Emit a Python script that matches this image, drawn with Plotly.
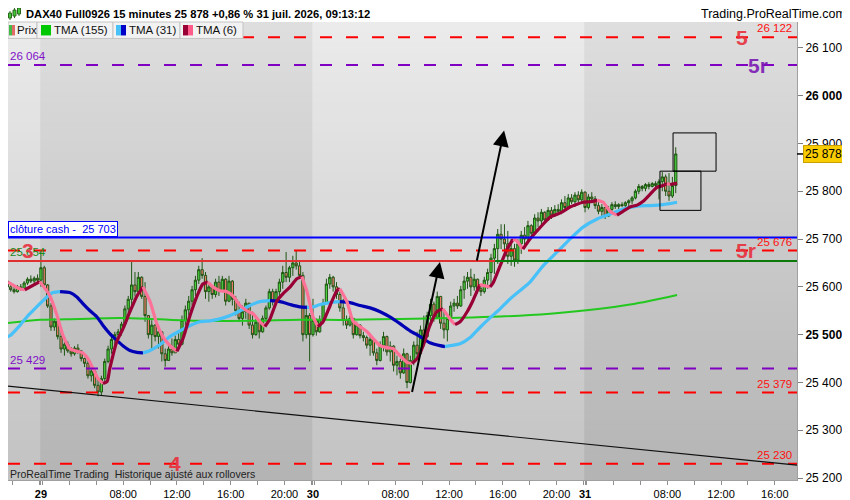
import plotly.graph_objects as go

# 15-minute bars, index 0 = first bar of the 29 session
bar_idx = list(range(-12, 190))

opens = [25600, 25606, 25612, 25600, 25594, 25590, 25600, 25596, 25608, 25616, 25612, 25618,
         25614, 25640, 25604, 25560, 25516, 25528, 25496, 25470, 25480, 25466,
         25460, 25472, 25466, 25450, 25440, 25414, 25424, 25394, 25380, 25408,
         25444, 25470, 25490, 25500, 25506, 25522, 25554, 25574, 25604, 25590,
         25620, 25580, 25540, 25500, 25520, 25496, 25506, 25460, 25446, 25470,
         25462, 25490, 25480, 25530, 25552, 25570, 25594, 25614, 25636, 25624,
         25590, 25600, 25584, 25610, 25592, 25616, 25570, 25612, 25574, 25550,
         25534, 25548, 25566, 25520, 25500, 25526, 25506, 25534, 25556, 25590,
         25570, 25590, 25610, 25630, 25620, 25640, 25650, 25644, 25624, 25500,
         25540, 25500, 25530, 25506, 25532, 25566, 25606, 25620, 25600, 25584,
         25556, 25530, 25520, 25534, 25500, 25520, 25498, 25494, 25478, 25490,
         25462, 25446, 25478, 25496, 25464, 25476, 25436, 25444, 25420, 25460,
         25400, 25446, 25478, 25460, 25510, 25496, 25540, 25564, 25536, 25580,
         25524, 25510, 25534, 25560, 25566, 25560, 25594, 25612, 25620, 25600,
         25616, 25596, 25590, 25614, 25630, 25660, 25680, 25710, 25700, 25690,
         25664, 25680, 25656, 25690, 25708, 25700, 25728, 25712, 25744, 25738,
         25756, 25740, 25760, 25750, 25762, 25758, 25776, 25766, 25786, 25778,
         25792, 25782, 25798, 25766, 25788, 25784, 25770, 25758, 25766, 25748,
         25762, 25772, 25768, 25772, 25770, 25776, 25780, 25786, 25800, 25810,
         25806, 25814, 25810, 25816, 25812, 25820, 25830, 25800, 25790, 25812]

highs = [25612, 25618, 25615, 25606, 25600, 25604, 25606, 25612, 25620, 25624, 25622, 25626,
         25676, 25644, 25606, 25566, 25534, 25530, 25512, 25486, 25486, 25474,
         25476, 25480, 25468, 25452, 25446, 25432, 25428, 25408, 25414, 25450,
         25477, 25498, 25506, 25512, 25527, 25561, 25581, 25652, 25631, 25631,
         25622, 25610, 25540, 25530, 25522, 25512, 25506, 25471, 25477, 25492,
         25498, 25506, 25540, 25561, 25581, 25602, 25623, 25644, 25660, 25631,
         25610, 25602, 25617, 25623, 25623, 25618, 25623, 25614, 25581, 25569,
         25561, 25575, 25566, 25548, 25533, 25530, 25540, 25561, 25596, 25596,
         25596, 25617, 25644, 25673, 25644, 25665, 25675, 25652, 25631, 25561,
         25545, 25575, 25534, 25540, 25575, 25617, 25627, 25623, 25610, 25590,
         25575, 25540, 25540, 25534, 25527, 25522, 25506, 25498, 25498, 25492,
         25471, 25486, 25506, 25498, 25486, 25478, 25456, 25450, 25471, 25462,
         25456, 25486, 25506, 25519, 25540, 25548, 25575, 25569, 25590, 25581,
         25554, 25540, 25569, 25575, 25581, 25602, 25623, 25631, 25638, 25627,
         25617, 25606, 25621, 25638, 25669, 25690, 25721, 25731, 25731, 25717,
         25700, 25690, 25700, 25717, 25725, 25738, 25731, 25752, 25756, 25763,
         25758, 25767, 25767, 25771, 25773, 25783, 25790, 25794, 25794, 25798,
         25800, 25804, 25800, 25794, 25798, 25790, 25783, 25773, 25767, 25769,
         25777, 25779, 25775, 25777, 25779, 25783, 25790, 25804, 25815, 25813,
         25817, 25819, 25819, 25821, 25825, 25840, 25835, 25838, 25830, 25892]

lows = [25594, 25600, 25596, 25590, 25586, 25588, 25592, 25594, 25604, 25608, 25606, 25610,
        25600, 25596, 25556, 25508, 25508, 25490, 25462, 25456, 25462, 25454,
        25456, 25460, 25444, 25432, 25408, 25402, 25388, 25371, 25373, 25402,
        25440, 25460, 25478, 25492, 25498, 25518, 25540, 25561, 25580, 25590,
        25575, 25527, 25492, 25470, 25486, 25471, 25444, 25433, 25446, 25456,
        25462, 25471, 25478, 25519, 25540, 25561, 25581, 25606, 25617, 25575,
        25569, 25575, 25578, 25581, 25590, 25561, 25568, 25561, 25540, 25527,
        25519, 25533, 25512, 25492, 25498, 25492, 25504, 25527, 25552, 25561,
        25570, 25581, 25596, 25610, 25610, 25623, 25636, 25617, 25486, 25492,
        25444, 25496, 25498, 25504, 25530, 25564, 25596, 25590, 25575, 25548,
        25519, 25512, 25517, 25492, 25498, 25492, 25486, 25471, 25456, 25456,
        25436, 25444, 25465, 25456, 25444, 25423, 25415, 25408, 25418, 25388,
        25398, 25436, 25450, 25458, 25486, 25494, 25519, 25527, 25534, 25512,
        25492, 25486, 25530, 25548, 25554, 25558, 25575, 25596, 25581, 25592,
        25586, 25581, 25586, 25596, 25604, 25627, 25648, 25679, 25669, 25648,
        25644, 25642, 25648, 25669, 25683, 25698, 25700, 25710, 25725, 25731,
        25731, 25738, 25742, 25746, 25752, 25752, 25758, 25763, 25773, 25767,
        25777, 25773, 25756, 25762, 25777, 25763, 25752, 25746, 25742, 25746,
        25758, 25763, 25763, 25767, 25767, 25769, 25773, 25783, 25794, 25800,
        25800, 25804, 25808, 25804, 25783, 25800, 25790, 25780, 25786, 25796]

closes = [25606, 25612, 25600, 25594, 25590, 25600, 25596, 25608, 25616, 25612, 25618, 25614,
          25640, 25604, 25560, 25516, 25528, 25496, 25470, 25480, 25466, 25460,
          25472, 25466, 25450, 25440, 25414, 25424, 25394, 25380, 25408, 25444,
          25470, 25490, 25500, 25506, 25522, 25554, 25574, 25604, 25590, 25620,
          25580, 25540, 25500, 25520, 25496, 25506, 25460, 25446, 25470, 25462,
          25490, 25480, 25530, 25552, 25570, 25594, 25614, 25636, 25624, 25590,
          25600, 25584, 25610, 25592, 25616, 25570, 25612, 25574, 25550, 25534,
          25548, 25566, 25520, 25500, 25526, 25506, 25534, 25556, 25590, 25570,
          25590, 25610, 25630, 25620, 25640, 25650, 25644, 25624, 25500, 25540,
          25500, 25530, 25506, 25532, 25566, 25606, 25620, 25600, 25584, 25556,
          25530, 25520, 25534, 25500, 25520, 25498, 25494, 25478, 25490, 25462,
          25446, 25478, 25496, 25464, 25476, 25436, 25444, 25420, 25460, 25400,
          25446, 25478, 25460, 25510, 25496, 25540, 25564, 25536, 25580, 25524,
          25510, 25534, 25560, 25566, 25560, 25594, 25612, 25620, 25600, 25616,
          25596, 25590, 25614, 25630, 25660, 25680, 25710, 25700, 25690, 25664,
          25680, 25656, 25690, 25708, 25700, 25728, 25712, 25744, 25738, 25756,
          25740, 25760, 25750, 25762, 25758, 25776, 25766, 25786, 25778, 25792,
          25782, 25798, 25766, 25788, 25784, 25770, 25758, 25766, 25748, 25762,
          25772, 25768, 25772, 25770, 25776, 25780, 25786, 25800, 25810, 25806,
          25814, 25810, 25816, 25812, 25820, 25830, 25800, 25790, 25812, 25878]

# moving averages (bar index, value)
tma6_x = [-12.2, -9.8, -6.3, -4.8, -0.3, 2.7, 4.8, 6.6, 8.6, 10.7, 12.2, 14.0, 15.5, 17.0,
          18.5, 19.7, 20.5, 22.6, 24.4, 26.5, 28.6, 30.4, 32.5, 34.5, 36.3, 38.4, 40.5,
          42.3, 44.4, 46.5, 48.2, 49.7, 51.2, 53.3, 55.4, 57.2, 59.3, 61.3, 63.1, 65.2,
          66.7, 68.2, 70.3, 72.1, 74.2, 76.2, 77.7, 79.2, 81.0, 82.5, 84.0, 86.1, 88.1,
          89.0, 91.1, 92.9, 95.0, 97.1, 98.9, 101.0, 103.0, 104.8, 106.9, 109.0, 110.5,
          112.0, 113.8, 115.8, 117.9, 119.7, 121.8, 123.3, 124.8, 126.9, 128.6, 130.7,
          131.6, 133.7, 134.6, 136.7, 138.8, 140.6, 141.7, 143.5, 145.6, 147.7, 149.5,
          151.6, 153.7, 155.5, 157.5, 159.6, 161.4, 163.5, 165.6, 167.4, 169.4, 171.5,
          173.3, 175.4, 177.5, 179.3, 181.4, 183.4, 185.2, 186.4, 187.3, 189.4]
tma6_y = [25602, 25610, 25596, 25594, 25611, 25581, 25540, 25498, 25471, 25465, 25463, 25450,
          25429, 25408, 25398, 25402, 25429, 25486, 25512, 25548, 25581, 25600, 25569,
          25523, 25496, 25477, 25465, 25492, 25540, 25581, 25606, 25610, 25600, 25592,
          25590, 25581, 25561, 25550, 25544, 25527, 25517, 25533, 25571, 25586, 25600,
          25617, 25621, 25590, 25538, 25517, 25527, 25561, 25592, 25596, 25569, 25529,
          25517, 25506, 25492, 25477, 25473, 25471, 25456, 25442, 25440, 25450, 25477,
          25519, 25548, 25554, 25533, 25521, 25527, 25548, 25571, 25605, 25603, 25600,
          25608, 25644, 25679, 25700, 25696, 25679, 25700, 25717, 25731, 25746, 25752,
          25758, 25767, 25773, 25777, 25778, 25781, 25777, 25758, 25750, 25758, 25767,
          25771, 25779, 25794, 25808, 25812, 25816, 25814, 25817]

tma31_x = [-12.2, -9.2, -6.3, -4.2, -2.4, -0.3, 1.8, 3.6, 5.7, 8.6, 10.7, 12.5, 14.6, 16.7,
           18.5, 20.5, 22.6, 24.4, 26.5, 28.6, 30.4, 32.5, 35.4, 38.4, 41.4, 44.4, 47.3,
           50.3, 53.3, 56.3, 59.3, 62.2, 65.2, 68.2, 71.2, 74.2, 77.1, 79.2, 81.0, 83.1,
           86.1, 89.0, 92.0, 95.0, 98.0, 101.0, 103.9, 106.9, 109.9, 112.9, 115.8, 118.8,
           120.3, 121.8, 124.8, 127.8, 130.7, 133.7, 136.7, 139.7, 145.6, 149.5, 153.7,
           157.5, 161.4, 165.6, 169.4, 173.3, 177.5, 181.4, 185.2, 189.4]
tma31_y = [25492, 25498, 25519, 25537, 25550, 25565, 25579, 25588, 25590, 25588, 25579, 25565,
           25550, 25537, 25519, 25502, 25488, 25477, 25467, 25463, 25462, 25467, 25479,
           25496, 25508, 25519, 25527, 25529, 25533, 25540, 25550, 25561, 25569, 25571,
           25569, 25563, 25558, 25557, 25558, 25563, 25567, 25569, 25567, 25561, 25556,
           25548, 25537, 25523, 25508, 25496, 25483, 25477, 25475, 25477, 25481, 25494,
           25515, 25535, 25554, 25575, 25610, 25644, 25673, 25700, 25725, 25742, 25752,
           25763, 25769, 25770, 25772, 25777]

tma155_x = [-12.2, -6.3, -0.3, 11.6, 23.5, 35.4, 47.3, 62.2, 77.1, 92.0, 106.9, 121.8,
            136.7, 151.6, 166.5, 175.4, 181.4, 189.4]
tma155_y = [25523, 25527, 25531, 25533, 25535, 25532, 25529, 25529, 25531, 25531, 25533,
            25535, 25538, 25544, 25554, 25563, 25571, 25583]

# drawn levels
red_dashed_levels = [26122, 25676, 25379, 25230]
purple_dashed_levels = [26064, 25429]
cash_close = 25703
support_level = 25654
support_split = 135.2          # red part to the left, green part to the right
last_price = 25878

# big level tags: text, level, bar position, colour
level_tags = [("5", 26122, 208.8, "#e8303c"), ("5r", 26064, 213.5, "#7b1ab4"),
              ("5r", 25676, 210.0, "#e8303c"), ("3", 25676, -3.9, "#e8303c"),
              ("4", 25230, 39.9, "#e8303c")]

# hand-drawn objects
trend_x = [-12.2, 225.1]
trend_y = [25394, 25227]
arrows = [((110.4, 25377), (118.8, 25652)), ((129.7, 25652), (137.9, 25927))]
boxes = [((188.2, 25842), (201.0, 25922)), ((184.3, 25760), (196.5, 25842))]

# axis ticks
x_tick_pos = [0, 24.5, 40.5, 56.5, 72.5, 81, 105.5, 121.5, 137.5, 153.5, 162, 186.5, 202.5, 218.5]
x_tick_txt = ["<b>29</b>", "08:00", "12:00", "16:00", "20:00", "<b>30</b>", "08:00", "12:00",
              "16:00", "20:00", "<b>31</b>", "08:00", "12:00", "16:00"]
y_ticks = [25200, 25300, 25400, 25500, 25600, 25700, 25800, 25900, 26000, 26100]

X_RANGE = [-9.8, 225.1]
Y_RANGE = [25196, 26154]
FONT = "Liberation Sans, Arial, sans-serif"

# the page puts the figure 8px in from the top-left corner
OFF = 8
PLOT_W = 789
PLOT_BOTTOM = 482
PLOT_H = 460


def fmt(v):
    return f"{v:,}".replace(",", " ")


def px_x(px):
    return (px - OFF) / PLOT_W


def px_y(py):
    return (PLOT_BOTTOM - py) / PLOT_H


def slope_runs(xs, ys):
    runs = []
    cx, cy, cur = [xs[0]], [ys[0]], None
    for i in range(1, len(xs)):
        up = ys[i] >= ys[i - 1]
        if cur is None:
            cur = up
        if up != cur:
            runs.append((cur, cx, cy))
            cx, cy, cur = [xs[i - 1]], [ys[i - 1]], up
        cx.append(xs[i])
        cy.append(ys[i])
    runs.append((cur, cx, cy))
    return runs


fig = go.Figure()

# background: vertical gradient with alternate session shading
n_rows = 46
y_edges = [Y_RANGE[0] + (Y_RANGE[1] - Y_RANGE[0]) * k / n_rows for k in range(n_rows + 1)]
x_edges = [-13, -0.3, 80.7, 161.7, 226]
z = []
for k in range(n_rows):
    t = (k + 0.5) / n_rows
    light = 194 + (235 - 194) * t
    dark = 180 + (222 - 180) * t
    z.append([light, dark, light, dark])
fig.add_trace(go.Heatmap(x=x_edges, y=y_edges, z=z, zmin=0, zmax=255,
                         colorscale=[[0, "rgb(0,0,0)"], [1, "rgb(255,255,255)"]],
                         showscale=False, hoverinfo="skip", zsmooth=False))

fig.add_trace(go.Candlestick(
    x=bar_idx, open=opens, high=highs, low=lows, close=closes,
    increasing=dict(line=dict(color="#1f5614", width=1), fillcolor="#4ad03c"),
    decreasing=dict(line=dict(color="#1f5614", width=1), fillcolor="#ee7a6e"),
    whiskerwidth=0, hoverinfo="skip", showlegend=False))

fig.add_trace(go.Scatter(x=tma155_x, y=tma155_y, mode="lines", hoverinfo="skip",
                         line=dict(color="#22c81e", width=2, shape="spline"), showlegend=False))

for up, sx, sy in slope_runs(tma31_x, tma31_y):
    fig.add_trace(go.Scatter(x=sx, y=sy, mode="lines", hoverinfo="skip", showlegend=False,
                             line=dict(color="#48c0f8" if up else "#0000b4", width=3.2,
                                       shape="spline", smoothing=0.6)))

for up, sx, sy in slope_runs(tma6_x, tma6_y):
    fig.add_trace(go.Scatter(x=sx, y=sy, mode="lines", hoverinfo="skip", showlegend=False,
                             line=dict(color="#990036" if up else "#ff7298", width=3.2,
                                       shape="spline", smoothing=0.6)))

shapes = []
annotations = []

for lv in red_dashed_levels:
    shapes.append(dict(type="line", xref="paper", x0=0, x1=1, yref="y", y0=lv, y1=lv,
                       line=dict(color="#ff0000", width=2, dash="12px,14px"), layer="above"))
    annotations.append(dict(xref="paper", x=px_x(794), xanchor="right", yref="y", y=lv,
                            yanchor="bottom", yshift=1, text=fmt(lv), showarrow=False,
                            font=dict(color="#ff1010", size=11.5, family=FONT)))
for lv in purple_dashed_levels:
    shapes.append(dict(type="line", xref="paper", x0=0, x1=1, yref="y", y0=lv, y1=lv,
                       line=dict(color="#7f00c0", width=2, dash="12px,14px"), layer="above"))
    annotations.append(dict(xref="paper", x=0.0, xanchor="left", yref="y", y=lv,
                            yanchor="bottom", yshift=1, text=fmt(lv), showarrow=False,
                            font=dict(color="#8010c8", size=11.5, family=FONT)))

shapes.append(dict(type="line", xref="paper", x0=0, x1=1, yref="y", y0=cash_close, y1=cash_close,
                   line=dict(color="#0000ff", width=2), layer="above"))
annotations.append(dict(xref="paper", x=0.0, xanchor="left", yref="y", y=cash_close,
                        yanchor="bottom", yshift=1, text="clôture cash - \u00a025 703",
                        showarrow=False, bgcolor="#ffffff", bordercolor="#0000ff",
                        borderwidth=1, borderpad=1,
                        font=dict(color="#0000ff", size=11, family=FONT)))

shapes.append(dict(type="line", xref="x", x0=-13, x1=support_split, yref="y",
                   y0=support_level, y1=support_level,
                   line=dict(color="#e03030", width=2), layer="above"))
shapes.append(dict(type="line", xref="x", x0=support_split, x1=X_RANGE[1], yref="y",
                   y0=support_level, y1=support_level,
                   line=dict(color="#0a7a0a", width=2), layer="above"))
annotations.append(dict(xref="paper", x=0.0, xanchor="left", yref="y", y=support_level,
                        yanchor="bottom", yshift=1, text=fmt(support_level), showarrow=False,
                        font=dict(color="#1a8a1a", size=11.5, family=FONT)))

for txt, lv, bx, col in level_tags:
    annotations.append(dict(xref="x", x=bx, yref="y", y=lv, text=f"<b>{txt}</b>",
                            showarrow=False, opacity=0.9,
                            font=dict(color=col, size=21, family=FONT)))

shapes.append(dict(type="line", xref="x", yref="y", x0=trend_x[0], y0=trend_y[0],
                   x1=trend_x[1], y1=trend_y[1], line=dict(color="#101010", width=1.2),
                   layer="above"))

for (tx, ty), (hx, hy) in arrows:
    annotations.append(dict(xref="x", yref="y", x=hx, y=hy, axref="x", ayref="y", ax=tx, ay=ty,
                            showarrow=True, arrowhead=2, arrowsize=1.6, arrowwidth=2,
                            arrowcolor="#000000", text=""))

for (bx0, by0), (bx1, by1) in boxes:
    shapes.append(dict(type="rect", xref="x", yref="y", x0=bx0, y0=by0, x1=bx1, y1=by1,
                       line=dict(color="#000000", width=1), layer="above"))

# last price marker on the axis
shapes.append(dict(type="line", xref="paper", yref="y", x0=1.0, x1=1.008, y0=last_price,
                   y1=last_price, line=dict(color="#000000", width=1.5)))
annotations.append(dict(xref="paper", x=1.008, xanchor="left", yref="y", y=last_price,
                        text=fmt(last_price), showarrow=False, bgcolor="#f8cc00",
                        bordercolor="#c8a000", borderwidth=1, borderpad=1,
                        font=dict(color="#000000", size=12, family=FONT)))

# legend row: box x0, x1, label, swatch colours, swatch x0, swatch width, text x
legend_items = [
    (8, 37, "Prix", ["#44b844", "#e06a6a"], 9, 6, 17),
    (37, 113, "TMA (155)", ["#00c800"], 41, 10, 54),
    (113, 180, "TMA (31)", ["#48c0f8", "#0000c8"], 116, 10, 129),
    (180, 243, "TMA (6)", ["#990036", "#ff5c8c"], 183, 10, 196),
]
for x0, x1, label, cols, sx0, swid, tx in legend_items:
    shapes.append(dict(type="rect", xref="paper", yref="paper", x0=px_x(x0), x1=px_x(x1),
                       y0=px_y(38.5), y1=px_y(22), fillcolor="#f2f2f2",
                       line=dict(color="#c4c4c4", width=1), layer="above"))
    sw = swid / len(cols)
    for j, c in enumerate(cols):
        shapes.append(dict(type="rect", xref="paper", yref="paper",
                           x0=px_x(sx0 + j * sw), x1=px_x(sx0 + (j + 1) * sw),
                           y0=px_y(35.5), y1=px_y(25), fillcolor=c, line=dict(width=0),
                           layer="above"))
    annotations.append(dict(xref="paper", yref="paper", x=px_x(tx), y=px_y(30.5),
                            xanchor="left", yanchor="middle", text=label, showarrow=False,
                            xshift=-2, font=dict(color="#111111", size=11.5, family=FONT)))

# header
for cx, top, bot in [(10, 13, 18), (14.5, 10, 16), (19, 8, 14)]:
    shapes.append(dict(type="line", xref="paper", yref="paper", x0=px_x(cx), x1=px_x(cx),
                       y0=px_y(bot + 2), y1=px_y(top - 2), line=dict(color="#2a6a1a", width=1)))
    shapes.append(dict(type="rect", xref="paper", yref="paper", x0=px_x(cx - 1.5),
                       x1=px_x(cx + 1.5), y0=px_y(bot), y1=px_y(top), fillcolor="#44c83a",
                       line=dict(color="#2a6a1a", width=1)))
annotations.append(dict(xref="paper", yref="paper", x=px_x(26), y=px_y(14), xanchor="left",
                        yanchor="middle", showarrow=False, xshift=-2,
                        text="<b>DAX40 Full0926 15 minutes 25 878 +0,86 % 31 juil. 2026, 09:13:12</b>",
                        font=dict(color="#000000", size=11.2, family=FONT)))
annotations.append(dict(xref="paper", yref="paper", x=px_x(848), y=px_y(14), xanchor="right",
                        yanchor="middle", showarrow=False, text="Trading.ProRealTime.com",
                        font=dict(color="#000000", size=12.5, family=FONT)))
annotations.append(dict(xref="paper", yref="paper", x=px_x(8), y=px_y(475.5), xanchor="left",
                        yanchor="middle", showarrow=False,
                        text="ProRealTime Trading \u00a0Historique ajusté aux rollovers",
                        font=dict(color="#222222", size=10.5, family=FONT)))

minor_vals = []
for d in [-81, 0, 81, 162]:
    for k in range(11):
        minor_vals.append(d + 0.5 + 8 * k)

y_tick_txt = [f"<b>{fmt(v)}</b>" if v % 500 == 0 else fmt(v) for v in y_ticks]

fig.update_layout(
    width=850 - OFF, height=500 - OFF,
    margin=dict(l=0, r=53, t=PLOT_BOTTOM - PLOT_H - OFF, b=500 - PLOT_BOTTOM),
    paper_bgcolor="#ffffff", plot_bgcolor="#d0d0d0",
    showlegend=False, hovermode=False, boxgap=0.05,
    font=dict(family=FONT, size=12, color="#000000"),
    shapes=shapes, annotations=annotations,
    xaxis=dict(range=X_RANGE, rangeslider=dict(visible=False), showgrid=False, zeroline=False,
               tickmode="array", tickvals=x_tick_pos, ticktext=x_tick_txt,
               ticks="outside", ticklen=4, tickcolor="#909090",
               tickfont=dict(size=11, family=FONT, color="#000000"),
               showline=True, linecolor="#a0a0a0",
               minor=dict(tickmode="array", tickvals=minor_vals, ticks="outside",
                          ticklen=4, tickcolor="#909090")),
    yaxis=dict(range=Y_RANGE, side="right", showgrid=False, zeroline=False,
               tickmode="array", tickvals=y_ticks, ticktext=y_tick_txt,
               ticks="outside", ticklen=5, tickcolor="#808080",
               tickfont=dict(size=12, family=FONT, color="#000000"),
               showline=True, linecolor="#a0a0a0"),
)

fig.write_html("out.html")
